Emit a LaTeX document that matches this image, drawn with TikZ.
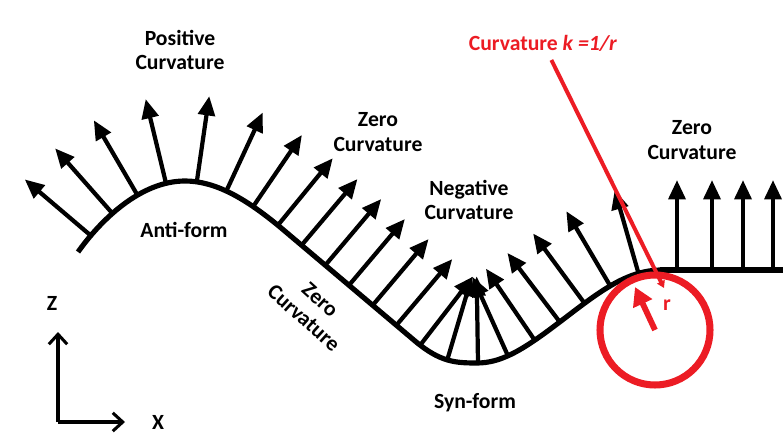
\documentclass[tikz,border=0pt]{standalone}
\usepackage{fontspec}
\setmainfont{Carlito}
\usetikzlibrary{arrows.meta,decorations.markings}
\definecolor{markred}{RGB}{236,28,36}
\tikzset{
  lbl/.style={font=\fontsize{18.5}{21}\selectfont\bfseries, align=center, inner sep=2pt},
  normarrow/.style={line width=3.6pt, -{Triangle[length=0.58cm,width=0.5cm]}},
  fold/.style={line width=4.4pt},
  axis/.style={line width=2.6pt, -{Straight Barb[length=0.3cm,width=0.55cm]}},
}

\begin{document}
\begin{tikzpicture}[x=0.03cm, y=0.03cm]
\useasboundingbox (0,0) rectangle (783,443);

% folded surface and its normals
\draw[fold, postaction={decorate}, decoration={markings,
    mark=between positions 0.03 and 0.975 step 0.0447 with {\draw[normarrow] (0,0) -- (0,2.6cm);}}]
  (78,191) .. controls (100,222) and (140,262) .. (185,262)
  .. controls (215,262) and (245,245) .. (280,216)
  -- (415,102)
  .. controls (440,81) and (455,80) .. (477,80)
  .. controls (500,80) and (520,92) .. (545,110)
  .. controls (590,143) and (620,172) .. (660,173);
\draw[fold] (660,173) -- (783,173);
\foreach \x in {677,712,743,773}
  \draw[normarrow] (\x,173) -- (\x,263);

% labels
\node[lbl] (poscurv) at (180,393) {Positive\\Curvature};
\node[lbl] (zerocurv) at (378,311) {Zero\\Curvature};
\node[lbl] (negcurv) at (469,243) {Negative\\Curvature};
\node[lbl] (flatcurv) at (692,303) {Zero\\Curvature};
\node[lbl] (antiform) at (184,213) {Anti-form};
\node[lbl] (synform) at (475,40) {Syn-form};
\node[lbl, rotate=-42] (slopecurv) at (312,134) {Zero\\Curvature};

% axes
\coordinate (origin) at (58,21);
\coordinate (ztip) at (58,111);
\coordinate (xtip) at (125,21);
\node[lbl] (zlab) at (52,140) {Z};
\node[lbl] (xlab) at (158,21) {X};
\draw[axis] (origin) -- (ztip);
\draw[axis] (origin) -- (xtip);

% osculating circle
\coordinate (ctr) at (655,113);
\coordinate (ktouch) at (664,155);
\draw[markred, line width=6pt] (ctr) circle[radius=1.65cm];
\draw[markred, line width=5pt, -{Triangle[length=0.55cm,width=0.6cm]}] (ctr) -- (635,156);
\node[lbl, text=markred] (rlab) at (667,138) {r};
\node[lbl, text=markred] (klabel) at (543,400) {Curvature \textit{k =1/r}};
\draw[markred, line width=3.4pt, shorten <=6pt, -{Triangle[length=6pt,width=7pt]}] (klabel) -- (ktouch);
\end{tikzpicture}
\end{document}
